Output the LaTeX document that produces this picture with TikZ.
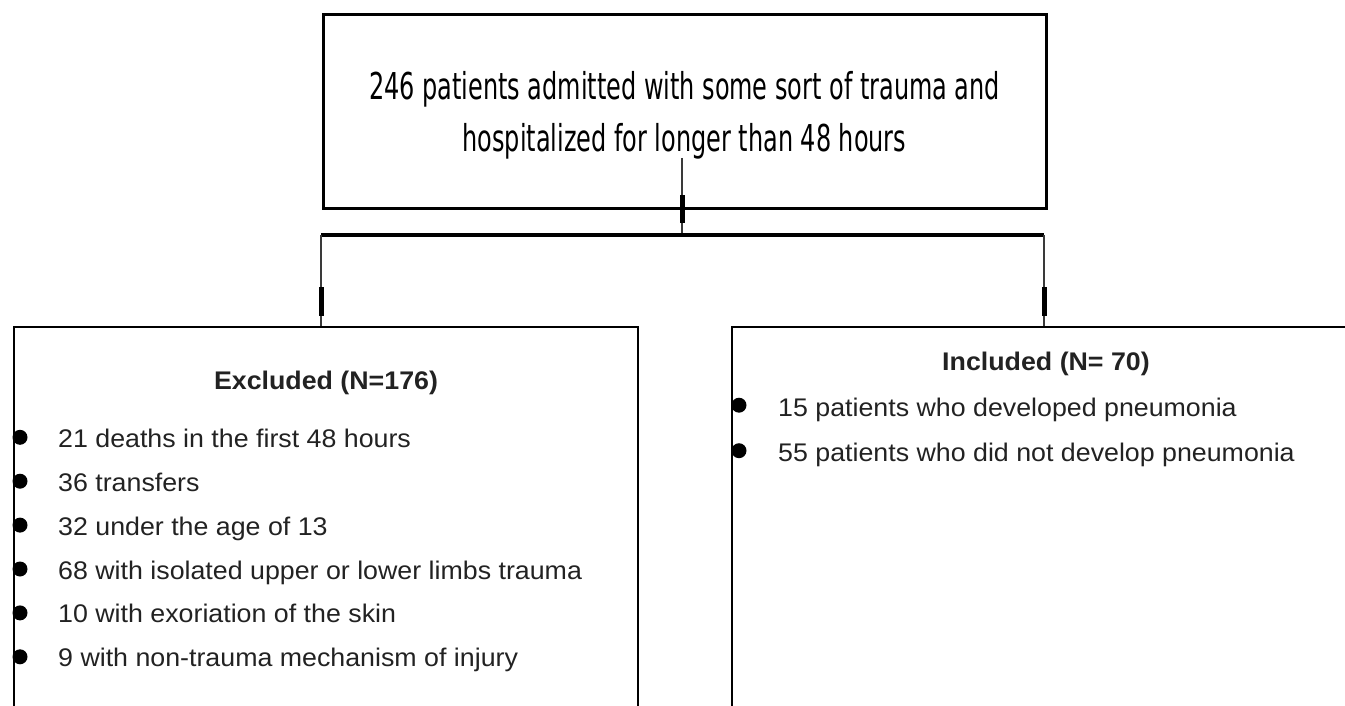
\documentclass[tikz,border=0pt]{standalone}
\usepackage{fontspec}
\setmainfont{Liberation Sans}[FakeStretch=1.05]
\newfontfamily\headfont[FakeStretch=0.72]{DejaVu Sans Condensed}
\usepackage{xcolor}
\definecolor{inkgray}{HTML}{222222}
\definecolor{linegray}{HTML}{3A3A3A}
\usepackage{tikz}
\usetikzlibrary{positioning}

\begin{document}
\begin{tikzpicture}[x=1pt,y=-1pt,
  panel/.style={draw=black,line width=2.6pt,inner sep=0pt},
  link/.style={draw=linegray,line width=2.2pt},
  tick/.style={draw=black,line width=5pt},
  dot/.style={circle,fill=black,inner sep=0pt,minimum size=15pt},
  head/.style={anchor=base,inner sep=0pt,text=black,font=\headfont\fontsize{37}{44}\selectfont},
  title/.style={anchor=base,inner sep=0pt,text=inkgray,font=\bfseries\fontsize{25.5}{30}\selectfont},
  item/.style={anchor=base west,inner sep=0pt,text=inkgray,font=\fontsize{25.5}{30}\selectfont}]
  \useasboundingbox (0,0) rectangle (1345,706);
  \clip (0,0) rectangle (1345,706);
  % Top box
  \node[panel,line width=3pt,minimum width=723pt,minimum height=194pt] (admit) at (684.5,112) {};
  \node[head] (admitA) at (684.5,100) {246 patients admitted with some sort of trauma and};
  \node[head] (admitB) at (684.5,152) {hospitalized for longer than 48 hours};
  % Lower boxes (cut off at the page edge)
  \node[panel,minimum width=624pt,minimum height=402pt] (excl) at (326,528) {};
  \node[panel,minimum width=628pt,minimum height=402pt] (incl) at (1046,528) {};
  % Titles
  \node[title] (excltitle) at (326,389) {Excluded (N=176)};
  \node[title] (incltitle) at (1046,370) {Included (N= 70)};
  % Excluded items
  \foreach \txt [count=\i] in {21 deaths in the first 48 hours, 36 transfers,
      32 under the age of 13, 68 with isolated upper or lower limbs trauma,
      10 with exoriation of the skin, 9 with non-trauma mechanism of injury} {
    \node[dot] (exdot\i) at (20,{403.4+43.9*\i-10}) {};
    \node[item] (ex\i) at (58,{403.4+43.9*\i}) {\txt};
  }
  % Included items
  \foreach \txt [count=\i] in {15 patients who developed pneumonia,
      55 patients who did not develop pneumonia} {
    \node[dot] (indot\i) at (739,{370.7+45.5*\i-11}) {};
    \node[item] (in\i) at (778,{370.7+45.5*\i}) {\txt};
  }
  % Connectors
  \coordinate (stem) at (682,158);
  \coordinate (split) at (682,235);
  \coordinate (barL) at (321,235);
  \coordinate (barR) at (1044,235);
  \draw[link] (stem) -- (split);
  \draw[tick] (split) ++(0,-12) -- ++(0,-28);
  \draw[line width=4.5pt] (barL) -- (barR);
  \draw[link] (barL) -- (barL |- excl.north);
  \draw[link] (barR) -- (barR |- incl.north);
  \draw[tick] (barL |- excl.north) ++(0,-10) -- ++(0,-29);
  \draw[tick] (barR |- incl.north) ++(0,-10) -- ++(0,-29);
\end{tikzpicture}
\end{document}
